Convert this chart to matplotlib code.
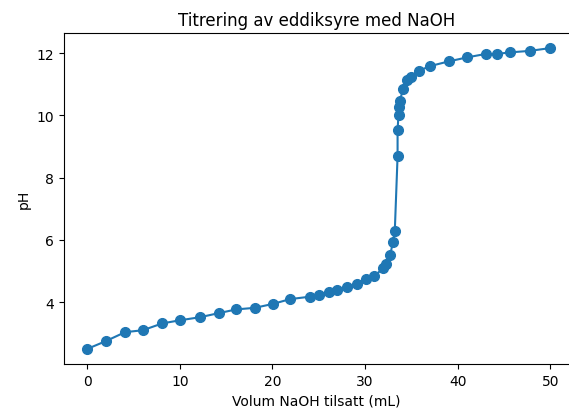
import matplotlib
matplotlib.use("Agg")
import matplotlib.pyplot as plt

# volum NaOH (mL) og målt pH, lest av figuren
volum = [0.0, 2.0, 4.1, 6.0, 8.1, 10.0, 12.2, 14.2, 16.1, 18.1, 20.1, 21.9,
         24.1, 25.0, 26.1, 27.0, 28.0, 29.1, 30.1, 31.0, 31.9, 32.2, 32.7,
         33.0, 33.2, 33.5, 33.5, 33.6, 33.7, 33.75, 34.1, 34.5, 34.9, 35.8,
         37.0, 39.0, 41.0, 43.0, 44.2, 45.6, 47.8, 50.0]
ph = [2.50, 2.75, 3.04, 3.10, 3.32, 3.42, 3.52, 3.65, 3.77, 3.82, 3.95, 4.10,
      4.18, 4.22, 4.33, 4.39, 4.48, 4.58, 4.76, 4.83, 5.09, 5.22, 5.51,
      5.94, 6.29, 8.69, 9.54, 10.01, 10.26, 10.47, 10.85, 11.15, 11.24, 11.43,
      11.58, 11.73, 11.86, 11.97, 11.97, 12.02, 12.07, 12.16]

fig = plt.figure(figsize=(5.69, 4.14), dpi=100)
# original is cropped at the right edge, so the axes stops at the figure edge
ax = fig.add_axes([64 / 569, 1 - 365 / 414, 505 / 569, 331 / 414])

ax.plot(volum, ph, 'o-', color='#1f77b4', markersize=7, linewidth=1.5)

ax.set_xlim(-2.5, 52.0)
ax.set_title('Titrering av eddiksyre med NaOH')
ax.set_xlabel('Volum NaOH tilsatt (mL)')
ax.set_ylabel('pH')
ax.spines['right'].set_visible(False)

fig.savefig('out.png', dpi=100)
